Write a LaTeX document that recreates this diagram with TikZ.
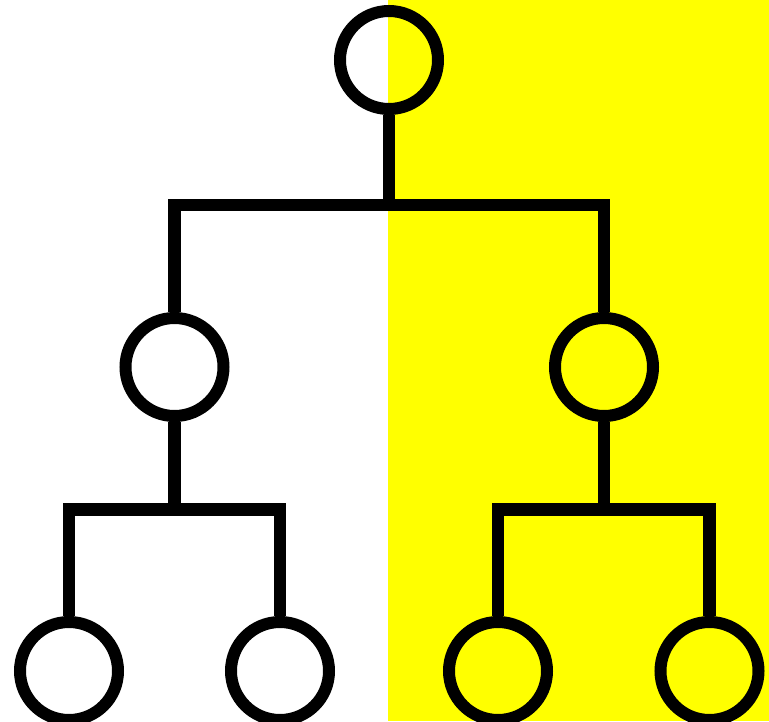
\documentclass[tikz,border=0pt]{standalone}
\usepackage{xcolor}
\usepackage{tikz}
\usetikzlibrary{positioning,calc}
\definecolor{halfyellow}{RGB}{255,255,0}

\begin{document}
\begin{tikzpicture}[x=1pt,y=-1pt,
  vertex/.style={draw,circle,line width=12pt,minimum size=98pt,inner sep=0pt},
  edge/.style={line width=12.5pt}]
  \useasboundingbox (0,0) rectangle (769,721);
  % halves of the background
  \fill[white] (0,0) rectangle (388,721);
  \fill[halfyellow] (388,0) rectangle (769,721);
  % tree
  \node[vertex] (root) at (389,60) {};
  \node[vertex] (midL) at (174.5,367) {};
  \node[vertex] (midR) at (604,367) {};
  \node[vertex] (leafLL) at (69,671) {};
  \node[vertex] (leafLR) at (280,671) {};
  \node[vertex] (leafRL) at (498,671) {};
  \node[vertex] (leafRR) at (709.5,671) {};
  \coordinate (barT) at (389,205);
  \coordinate (barL) at (174.5,509.5);
  \coordinate (barR) at (604,509.5);
  \draw[edge] (root.south) -- (barT);
  \draw[edge] (midL.north) |- (barT) -| (midR.north);
  \draw[edge] (midL.south) -- (barL);
  \draw[edge] (leafLL.north) |- (barL) -| (leafLR.north);
  \draw[edge] (midR.south) -- (barR);
  \draw[edge] (leafRL.north) |- (barR) -| (leafRR.north);
\end{tikzpicture}
\end{document}
